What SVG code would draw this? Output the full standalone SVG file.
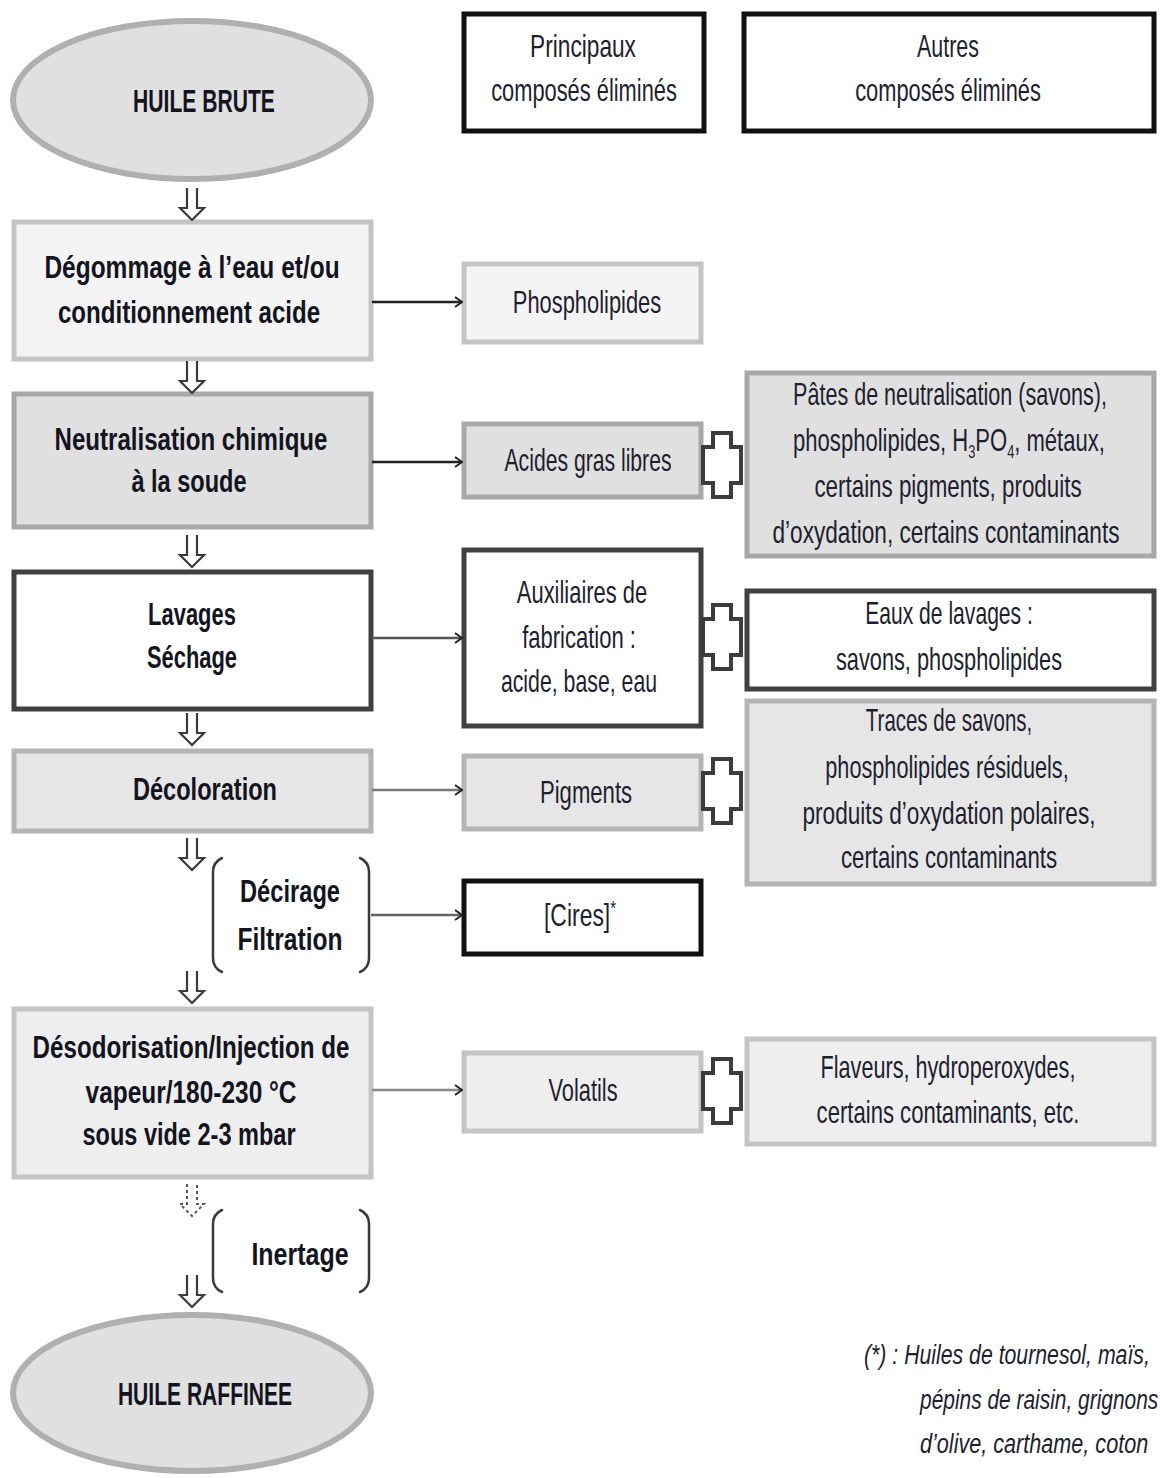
<svg xmlns="http://www.w3.org/2000/svg" width="1160" height="1478" viewBox="0 0 1160 1478">
  <style>
    .t { font-family: "Liberation Sans", Arial, sans-serif; fill: #1e1e2e; text-anchor: middle; }
    .b { font-weight: bold; font-size: 31px; fill: #14141f; }
    .e { font-weight: bold; font-size: 32px; fill: #14141f; }
    .r { font-size: 31px; }
    .i { font-style: italic; font-size: 28px; text-anchor: start; }
    .hdr { fill: #ffffff; stroke: #111111; stroke-width: 5; }
    .s1 { fill: #f4f4f4; stroke: #c4c4c4; stroke-width: 5; }
    .s2 { fill: #e0e0e0; stroke: #a8a8a8; stroke-width: 5; }
    .s3 { fill: #ffffff; stroke: #404040; stroke-width: 5; }
    .s4 { fill: #e6e6e6; stroke: #b4b4b4; stroke-width: 5; }
    .s5 { fill: #ffffff; stroke: #111111; stroke-width: 5; }
    .s6 { fill: #eeeeee; stroke: #c4c4c4; stroke-width: 5; }
    .ell { fill: #e0e0e0; stroke: #b0b0b0; stroke-width: 6; }
    .plus { fill: #ffffff; stroke: #3c3c3c; stroke-width: 4; stroke-linejoin: miter; }
    .down { fill: #ffffff; stroke: #3a3a3a; stroke-width: 2.2; }
    .dotted { fill: none; stroke: #555555; stroke-width: 2; stroke-dasharray: 3 3; }
    .br { fill: none; stroke: #3a3a3a; stroke-width: 2.5; stroke-linecap: round; }
    .link { fill: none; stroke-width: 2.5; marker-end: url(#chev); }
  </style>
  <defs>
    <marker id="chev" viewBox="0 0 10 12" refX="9" refY="6" markerWidth="10" markerHeight="12" markerUnits="userSpaceOnUse" orient="auto">
      <path d="M2,1 L9,6 L2,11" fill="none" stroke="#222222" stroke-width="2"/>
    </marker>
    <path id="dn" class="down" d="M-5,0 V20 H-12 L0,32 L12,20 H5 V0"/>
    <path id="cross" class="plus" d="M-9,-33 H9 V-19 H19 V17 H9 V31 H-9 V17 H-19 V-19 H-9 Z"/>
  </defs>

  <!-- column headers -->
  <g id="hdr-principaux">
    <rect class="hdr" x="464" y="14" width="240" height="117"/>
    <text class="t r" transform="translate(583,57) scale(0.72,1)" textLength="147" lengthAdjust="spacingAndGlyphs">Principaux</text>
    <text class="t r" transform="translate(584,101) scale(0.72,1)" textLength="258" lengthAdjust="spacingAndGlyphs">composés éliminés</text>
  </g>
  <g id="hdr-autres">
    <rect class="hdr" x="744" y="14" width="410" height="117"/>
    <text class="t r" transform="translate(948,57) scale(0.72,1)" textLength="86" lengthAdjust="spacingAndGlyphs">Autres</text>
    <text class="t r" transform="translate(948,101) scale(0.72,1)" textLength="258" lengthAdjust="spacingAndGlyphs">composés éliminés</text>
  </g>

  <!-- process steps -->
  <g id="huile-brute">
    <ellipse class="ell" cx="192" cy="100" rx="179" ry="79"/>
    <text class="t e" transform="translate(204,112) scale(0.72,1)" textLength="197" lengthAdjust="spacingAndGlyphs">HUILE BRUTE</text>
  </g>
  <g id="degommage">
    <rect class="s1" x="14" y="222" width="357" height="137"/>
    <text class="t b" transform="translate(192,278) scale(0.72,1)" textLength="410" lengthAdjust="spacingAndGlyphs">Dégommage à l’eau et/ou</text>
    <text class="t b" transform="translate(189,323) scale(0.72,1)" textLength="364" lengthAdjust="spacingAndGlyphs">conditionnement acide</text>
  </g>
  <g id="neutralisation">
    <rect class="s2" x="14" y="394" width="357" height="133"/>
    <text class="t b" transform="translate(191,450) scale(0.72,1)" textLength="379" lengthAdjust="spacingAndGlyphs">Neutralisation chimique</text>
    <text class="t b" transform="translate(189,492) scale(0.72,1)" textLength="160" lengthAdjust="spacingAndGlyphs">à la soude</text>
  </g>
  <g id="lavages">
    <rect class="s3" x="14" y="572" width="357" height="137"/>
    <text class="t b" transform="translate(192,625) scale(0.72,1)" textLength="122" lengthAdjust="spacingAndGlyphs">Lavages</text>
    <text class="t b" transform="translate(192,668) scale(0.72,1)" textLength="125" lengthAdjust="spacingAndGlyphs">Séchage</text>
  </g>
  <g id="decoloration">
    <rect class="s4" x="14" y="751" width="357" height="80"/>
    <text class="t b" transform="translate(205,800) scale(0.72,1)" textLength="200" lengthAdjust="spacingAndGlyphs">Décoloration</text>
  </g>
  <g id="decirage">
    <path class="br" d="M222,858 Q213,862 213,872 V958 Q213,968 222,972"/>
    <path class="br" d="M360,858 Q369,862 369,872 V958 Q369,968 360,972"/>
    <text class="t b" transform="translate(290,902) scale(0.72,1)" textLength="139" lengthAdjust="spacingAndGlyphs">Décirage</text>
    <text class="t b" transform="translate(290,950) scale(0.72,1)" textLength="146" lengthAdjust="spacingAndGlyphs">Filtration</text>
  </g>
  <g id="desodorisation">
    <rect class="s6" x="14" y="1009" width="357" height="168"/>
    <text class="t b" transform="translate(191,1058) scale(0.72,1)" textLength="440" lengthAdjust="spacingAndGlyphs">Désodorisation/Injection de</text>
    <text class="t b" transform="translate(191,1103) scale(0.72,1)" textLength="293" lengthAdjust="spacingAndGlyphs">vapeur/180-230 °C</text>
    <text class="t b" transform="translate(189,1145) scale(0.72,1)" textLength="296" lengthAdjust="spacingAndGlyphs">sous vide 2-3 mbar</text>
  </g>
  <g id="inertage">
    <path class="br" d="M222,1210 Q213,1214 213,1224 V1278 Q213,1288 222,1292"/>
    <path class="br" d="M360,1210 Q369,1214 369,1224 V1278 Q369,1288 360,1292"/>
    <text class="t b" transform="translate(300,1265) scale(0.72,1)" textLength="135" lengthAdjust="spacingAndGlyphs">Inertage</text>
  </g>
  <g id="huile-raffinee">
    <ellipse class="ell" cx="192" cy="1393" rx="179" ry="78"/>
    <text class="t e" transform="translate(205,1405) scale(0.72,1)" textLength="242" lengthAdjust="spacingAndGlyphs">HUILE RAFFINEE</text>
  </g>

  <!-- main compounds removed -->
  <g id="phospholipides">
    <rect class="s1" x="464" y="264" width="237" height="78"/>
    <text class="t r" transform="translate(587,313) scale(0.72,1)" textLength="206" lengthAdjust="spacingAndGlyphs">Phospholipides</text>
  </g>
  <g id="acides-gras">
    <rect class="s2" x="464" y="424" width="237" height="73"/>
    <text class="t r" transform="translate(588,471) scale(0.72,1)" textLength="232" lengthAdjust="spacingAndGlyphs">Acides gras libres</text>
  </g>
  <g id="auxiliaires">
    <rect class="s3" x="464" y="550" width="237" height="176"/>
    <text class="t r" transform="translate(582,603) scale(0.72,1)" textLength="181" lengthAdjust="spacingAndGlyphs">Auxiliaires de</text>
    <text class="t r" transform="translate(579,648) scale(0.72,1)" textLength="158" lengthAdjust="spacingAndGlyphs">fabrication :</text>
    <text class="t r" transform="translate(579,692) scale(0.72,1)" textLength="217" lengthAdjust="spacingAndGlyphs">acide, base, eau</text>
  </g>
  <g id="pigments">
    <rect class="s4" x="464" y="756" width="237" height="73"/>
    <text class="t r" transform="translate(586,803) scale(0.72,1)" textLength="128" lengthAdjust="spacingAndGlyphs">Pigments</text>
  </g>
  <g id="cires">
    <rect class="s5" x="464" y="881" width="237" height="73"/>
    <text class="t r" transform="translate(580,926) scale(0.72,1)" textLength="100" lengthAdjust="spacingAndGlyphs">[Cires]<tspan font-size="20" baseline-shift="super">*</tspan></text>
  </g>
  <g id="volatils">
    <rect class="s6" x="464" y="1053" width="237" height="78"/>
    <text class="t r" transform="translate(583,1101) scale(0.72,1)" textLength="96" lengthAdjust="spacingAndGlyphs">Volatils</text>
  </g>

  <!-- other compounds removed -->
  <g id="pates">
    <rect class="s2" x="747" y="373" width="407" height="183"/>
    <text class="t r" transform="translate(950,405) scale(0.72,1)" textLength="436" lengthAdjust="spacingAndGlyphs">Pâtes de neutralisation (savons),</text>
    <text class="t r" transform="translate(949,451) scale(0.72,1)" textLength="433" lengthAdjust="spacingAndGlyphs">phospholipides, H<tspan font-size="18" baseline-shift="-7">3</tspan>PO<tspan font-size="18" baseline-shift="-7">4</tspan>, métaux,</text>
    <text class="t r" transform="translate(948,497) scale(0.72,1)" textLength="371" lengthAdjust="spacingAndGlyphs">certains pigments, produits</text>
    <text class="t r" transform="translate(946,543) scale(0.72,1)" textLength="482" lengthAdjust="spacingAndGlyphs">d’oxydation, certains contaminants</text>
  </g>
  <g id="eaux-lavages">
    <rect class="s3" x="747" y="591" width="407" height="98"/>
    <text class="t r" transform="translate(949,624) scale(0.72,1)" textLength="233" lengthAdjust="spacingAndGlyphs">Eaux de lavages :</text>
    <text class="t r" transform="translate(949,670) scale(0.72,1)" textLength="314" lengthAdjust="spacingAndGlyphs">savons, phospholipides</text>
  </g>
  <g id="traces">
    <rect class="s4" x="747" y="701" width="407" height="183"/>
    <text class="t r" transform="translate(949,731) scale(0.72,1)" textLength="231" lengthAdjust="spacingAndGlyphs">Traces de savons,</text>
    <text class="t r" transform="translate(947,778) scale(0.72,1)" textLength="338" lengthAdjust="spacingAndGlyphs">phospholipides résiduels,</text>
    <text class="t r" transform="translate(949,824) scale(0.72,1)" textLength="407" lengthAdjust="spacingAndGlyphs">produits d’oxydation polaires,</text>
    <text class="t r" transform="translate(949,868) scale(0.72,1)" textLength="300" lengthAdjust="spacingAndGlyphs">certains contaminants</text>
  </g>
  <g id="flaveurs">
    <rect class="s6" x="747" y="1039" width="407" height="105"/>
    <text class="t r" transform="translate(948,1078) scale(0.72,1)" textLength="354" lengthAdjust="spacingAndGlyphs">Flaveurs, hydroperoxydes,</text>
    <text class="t r" transform="translate(948,1123) scale(0.72,1)" textLength="365" lengthAdjust="spacingAndGlyphs">certains contaminants, etc.</text>
  </g>

  <!-- footnote -->
  <g id="note">
    <text class="t i" transform="translate(864,1364) scale(0.72,1)" textLength="397" lengthAdjust="spacingAndGlyphs">(*) :  Huiles de tournesol, maïs,</text>
    <text class="t i" transform="translate(920,1409) scale(0.72,1)" textLength="331" lengthAdjust="spacingAndGlyphs">pépins de raisin, grignons</text>
    <text class="t i" transform="translate(920,1453) scale(0.72,1)" textLength="317" lengthAdjust="spacingAndGlyphs">d’olive, carthame, coton</text>
  </g>

  <!-- connectors -->
  <g id="connectors">
    <use href="#dn" x="192" y="188"/>
    <use href="#dn" x="192" y="361"/>
    <use href="#dn" x="192" y="535"/>
    <use href="#dn" x="192" y="713"/>
    <use href="#dn" x="192" y="838"/>
    <use href="#dn" x="192" y="971"/>
    <path class="dotted" d="M187,1184 V1204 H180 L192,1216 L204,1204 H197 V1184"/>
    <use href="#dn" x="192" y="1275"/>

    <path class="link" stroke="#222222" d="M372,302 H462"/>
    <path class="link" stroke="#222222" d="M372,462 H462"/>
    <path class="link" stroke="#555555" d="M372,638 H462"/>
    <path class="link" stroke="#777777" d="M372,790 H462"/>
    <path class="link" stroke="#666666" d="M371,915 H462"/>
    <path class="link" stroke="#888888" d="M372,1090 H462"/>

    <use href="#cross" x="722" y="466"/>
    <use href="#cross" x="722" y="638"/>
    <use href="#cross" x="722" y="792"/>
    <use href="#cross" x="722" y="1092"/>
  </g>
</svg>
